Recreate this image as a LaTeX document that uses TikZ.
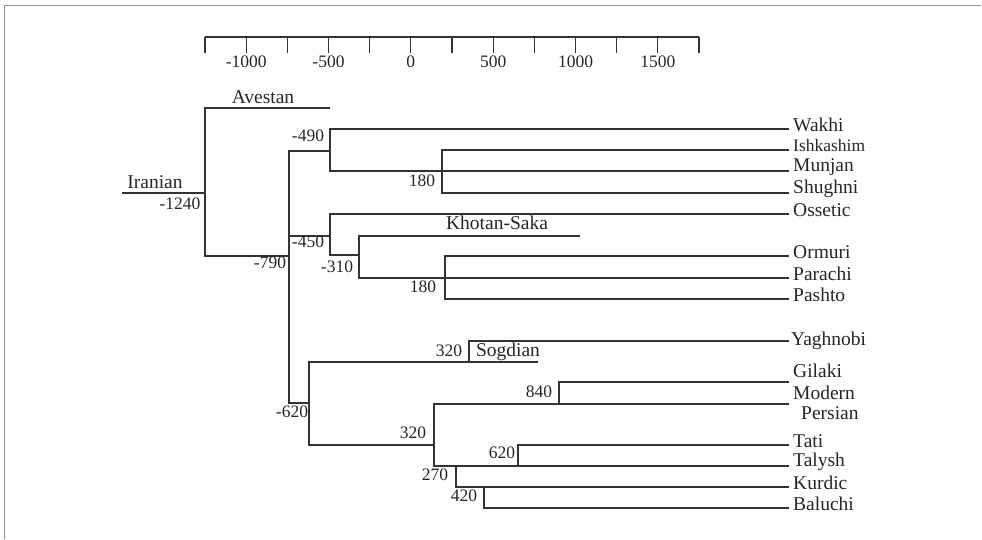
\documentclass[tikz,border=0pt]{standalone}
\usepackage{fontspec}
\setmainfont{Liberation Serif}
\usetikzlibrary{positioning}

\begin{document}
\begin{tikzpicture}[
    x=1pt, y=-1pt,
    branch/.style={draw=black!80, line width=1.1pt},
    leaf/.style={inner sep=1pt, font=\fontsize{19.5}{20}\selectfont, text=black!85, yshift=4pt},
    num/.style={inner sep=0pt, font=\fontsize{17.5}{19}\selectfont, text=black!85},
    lang/.style={inner sep=0pt, font=\fontsize{19.5}{20}\selectfont, text=black!85},
]
\useasboundingbox (0,0) rectangle (982,539);

% Frame
\draw[gray!85, line width=1.5pt] (4.5,539) -- (4.5,5.5) -- (981,5.5);

% === Time axis ===
\coordinate (ax-l) at (205,37);
\coordinate (ax-r) at (699,37);
\draw[branch] (ax-l) -- (ax-r);
\foreach \k in {0,...,12}
    \draw[branch] ({205+41.17*\k},37) -- ++(0,16);
\foreach \v [count=\k] in {-1000,-500,0,500,1000,1500}
    \node[num] (tick\k) at ({205+41.17*(2*\k-1)},62) {\v};

% === Leaf ends ===
\coordinate (e-wakhi) at (789,129);
\coordinate (e-ishkashim) at (789,150);
\coordinate (e-munjan) at (789,171);
\coordinate (e-shughni) at (789,193);
\coordinate (e-ossetic) at (789,214);
\coordinate (e-ormuri) at (789,256);
\coordinate (e-parachi) at (789,278);
\coordinate (e-pashto) at (789,299);
\coordinate (e-yaghnobi) at (789,341);
\coordinate (e-gilaki) at (789,382);
\coordinate (e-persian) at (789,404);
\coordinate (e-tati) at (789,445);
\coordinate (e-talysh) at (789,466);
\coordinate (e-kurdic) at (789,487);
\coordinate (e-baluchi) at (789,508);

\node[leaf, right=3pt of e-wakhi] (wakhi) {Wakhi};
\node[leaf, right=3pt of e-ishkashim, font=\fontsize{17.5}{18}\selectfont] (ishkashim) {Ishkashim};
\node[leaf, right=3pt of e-munjan] (munjan) {Munjan};
\node[leaf, right=3pt of e-shughni] (shughni) {Shughni};
\node[leaf, right=3pt of e-ossetic] (ossetic) {Ossetic};
\node[leaf, right=3pt of e-ormuri] (ormuri) {Ormuri};
\node[leaf, right=3pt of e-parachi] (parachi) {Parachi};
\node[leaf, right=3pt of e-pashto] (pashto) {Pashto};
\node[leaf, right=1pt of e-yaghnobi, yshift=-4pt] (yaghnobi) {Yaghnobi};
\node[leaf, right=3pt of e-gilaki, yshift=7pt] (gilaki) {Gilaki};
\node[leaf, right=3pt of e-persian, yshift=-3pt, align=left] (persian) {Modern\\\hspace*{8pt}Persian};
\node[leaf, right=3pt of e-tati] (tati) {Tati};
\node[leaf, right=3pt of e-talysh] (talysh) {Talysh};
\node[leaf, right=3pt of e-kurdic] (kurdic) {Kurdic};
\node[leaf, right=3pt of e-baluchi] (baluchi) {Baluchi};

% === Root ===
\coordinate (root) at (122,193);
\coordinate (j1240) at (205,193);
\coordinate (avestan-end) at (330,108);
\coordinate (j790) at (289,256);
\draw[branch] (root) -- (j1240);
\draw[branch] (j1240) |- (avestan-end);
\draw[branch] (j1240) |- (j790);
\node[lang] (iranian) at (155,182) {Iranian};
\node[num] (n1240) at (180,204) {-1240};
\node[lang] (avestan) at (263,97) {Avestan};
\node[num] (n790) at (270,263) {-790};

% === Upper clade ===
\coordinate (j490) at (330,151);
\coordinate (j180a) at (442,171);
\draw[branch] (j790) |- (j490);
\draw[branch] (j490) |- (e-wakhi);
\draw[branch] (j490) |- (e-munjan);
\draw[branch] (j180a) |- (e-ishkashim);
\draw[branch] (j180a) |- (e-shughni);
\node[num] (n490) at (308,136) {-490};
\node[num] (n180a) at (422,181) {180};

% === Middle clade ===
\coordinate (j450) at (330,236);
\coordinate (j310) at (359,255);
\coordinate (khotan-end) at (580,236);
\coordinate (j180b) at (445,278);
\draw[branch] (j790) |- (j450);
\draw[branch] (j450) |- (e-ossetic);
\draw[branch] (j450) |- (j310);
\draw[branch] (j310) |- (khotan-end);
\draw[branch] (j310) |- (e-parachi);
\draw[branch] (j180b) |- (e-ormuri);
\draw[branch] (j180b) |- (e-pashto);
\node[num] (n450) at (308,242) {-450};
\node[num] (n310) at (337,267) {-310};
\node[lang] (khotan) at (497,223) {Khotan-Saka};
\node[num] (n180b) at (423,287) {180};

% === Lower clade ===
\coordinate (j620) at (309,403);
\coordinate (sogdian-end) at (538,362);
\coordinate (j320a) at (469,362);
\coordinate (j320b) at (434,445);
\coordinate (j840) at (559,404);
\coordinate (j620b) at (518,466);
\coordinate (j270) at (456,466);
\coordinate (j420) at (484,487);
\draw[branch] (j790) |- (j620);
\draw[branch] (j620) |- (sogdian-end);
\draw[branch] (j620) |- (j320b);
\draw[branch] (j320a) |- (e-yaghnobi);
\draw[branch] (j320b) |- (e-persian);
\draw[branch] (j320b) |- (e-talysh);
\draw[branch] (j840) |- (e-gilaki);
\draw[branch] (j620b) |- (e-tati);
\draw[branch] (j270) |- (e-kurdic);
\draw[branch] (j420) |- (e-baluchi);
\node[num] (n620) at (292,412) {-620};
\node[num] (n320a) at (449,351) {320};
\node[lang] (sogdian) at (508,352) {Sogdian};
\node[num] (n320b) at (413,433) {320};
\node[num] (n840) at (539,392) {840};
\node[num] (n620b) at (502,453) {620};
\node[num] (n270) at (435,475) {270};
\node[num] (n420) at (464,496) {420};

\end{tikzpicture}
\end{document}
